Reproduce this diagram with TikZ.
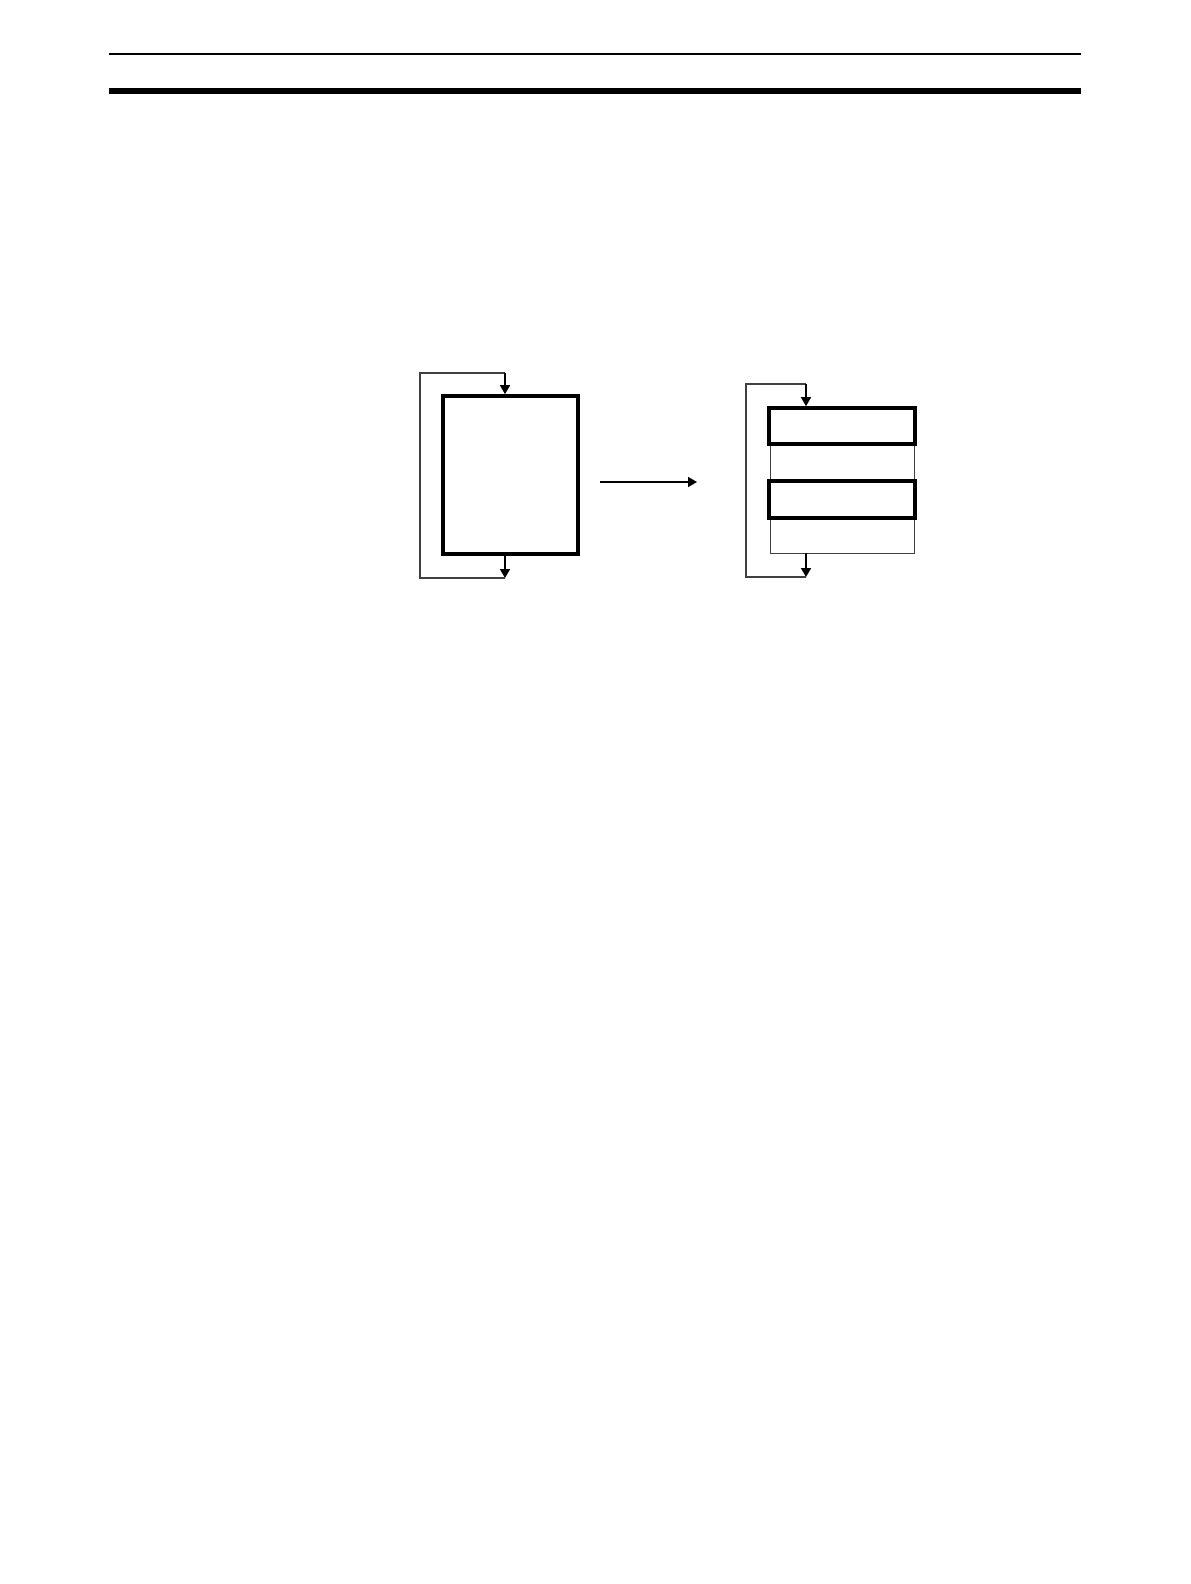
\documentclass[tikz,border=0pt]{standalone}
\usetikzlibrary{arrows.meta,calc}
\begin{document}
\begin{tikzpicture}[x=0.5pt,y=-0.5pt,
  thickbox/.style={draw=black,line width=1.8pt,fill=none,inner sep=0pt,outer sep=0pt},
  thinline/.style={draw=black!75,line width=0.55pt},
  flow/.style={draw=black,line width=0.8pt,-{Triangle[length=4.5pt,width=5pt]}},
  tipflow/.style={draw=black,line width=0.8pt,-{Triangle[length=4.5pt,width=5pt]},shorten >=0.9pt}]
\useasboundingbox (0,0) rectangle (1190,1584);
% header rules
\coordinate (h1l) at (109,54); \coordinate (h1r) at (1081,54);
\coordinate (h2l) at (109,91); \coordinate (h2r) at (1081,91);
\draw[line width=1pt] (h1l) -- (h1r);
\draw[line width=2.9pt] (h2l) -- (h2r);
% left diagram
\node[thickbox,minimum width=67.5pt,minimum height=79pt] (A) at (510.5,475) {};
\coordinate (Atop) at (505,396);
\coordinate (Abot) at (505,554);
\coordinate (Ael) at (505,578);
\coordinate (Aloopbl) at (420,578);
\coordinate (Alooptl) at (420,373);
\coordinate (Alooptr) at (505,373);
\draw[flow] (Abot) -- (Ael);
\draw[thinline] (Ael) -- (Aloopbl) -- (Alooptl) -- (Alooptr);
\draw[tipflow] (Alooptr) -- (Atop);
% middle arrow
\coordinate (m1) at (600,482);
\coordinate (m2) at (697,482);
\draw[flow,line width=0.7pt] (m1) -- (m2);
% right diagram
\node[thinline,draw,minimum width=72pt,minimum height=72.5pt,inner sep=0pt,anchor=north west] (R) at (770,408) {};
\node[thickbox,fill=white,minimum width=73pt,minimum height=18pt,anchor=north west] (B1) at (769,408) {};
\node[thickbox,fill=white,minimum width=73pt,minimum height=18.5pt,anchor=north west] (B2) at (769,481) {};
\coordinate (Btop) at (806,408);
\coordinate (Bbot) at (806,553);
\coordinate (Bel) at (806,577);
\coordinate (Bloopbl) at (746,577);
\coordinate (Blooptl) at (746,384);
\coordinate (Blooptr) at (806,384);
\draw[flow] (Bbot) -- (Bel);
\draw[thinline] (Bel) -- (Bloopbl) -- (Blooptl) -- (Blooptr);
\draw[tipflow] (Blooptr) -- (Btop);
\end{tikzpicture}
\end{document}
